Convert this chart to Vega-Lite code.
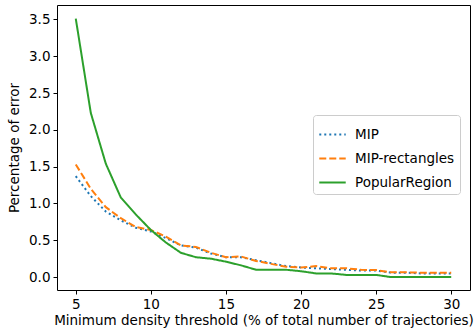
{
  "$schema": "https://vega.github.io/schema/vega-lite/v6.json",
  "width": 413,
  "height": 285,
  "autosize": "none",
  "padding": {"left": 57, "top": 5, "right": 6, "bottom": 44},
  "config": {
    "font": "DejaVu Sans",
    "view": {"stroke": "black", "strokeWidth": 1},
    "axis": {"grid": false, "domain": false, "tickColor": "black", "tickSize": 4, "labelColor": "black", "titleColor": "black", "labelFontSize": 13.5, "titleFontSize": 13.5, "titleFontWeight": "normal", "labelPadding": 3}
  },
  "data": {"values": [
    {"x": 5, "s": "MIP", "y": 1.37}, {"x": 6, "s": "MIP", "y": 1.1}, {"x": 7, "s": "MIP", "y": 0.89}, {"x": 8, "s": "MIP", "y": 0.77}, {"x": 9, "s": "MIP", "y": 0.67}, {"x": 10, "s": "MIP", "y": 0.62}, {"x": 11, "s": "MIP", "y": 0.53}, {"x": 12, "s": "MIP", "y": 0.43}, {"x": 13, "s": "MIP", "y": 0.4}, {"x": 14, "s": "MIP", "y": 0.32}, {"x": 15, "s": "MIP", "y": 0.27}, {"x": 16, "s": "MIP", "y": 0.27}, {"x": 17, "s": "MIP", "y": 0.23}, {"x": 18, "s": "MIP", "y": 0.19}, {"x": 19, "s": "MIP", "y": 0.15}, {"x": 20, "s": "MIP", "y": 0.13}, {"x": 21, "s": "MIP", "y": 0.12}, {"x": 22, "s": "MIP", "y": 0.11}, {"x": 23, "s": "MIP", "y": 0.1}, {"x": 24, "s": "MIP", "y": 0.09}, {"x": 25, "s": "MIP", "y": 0.09}, {"x": 26, "s": "MIP", "y": 0.06}, {"x": 27, "s": "MIP", "y": 0.06}, {"x": 28, "s": "MIP", "y": 0.05}, {"x": 29, "s": "MIP", "y": 0.05}, {"x": 30, "s": "MIP", "y": 0.05},
    {"x": 5, "s": "MIP-rectangles", "y": 1.53}, {"x": 6, "s": "MIP-rectangles", "y": 1.2}, {"x": 7, "s": "MIP-rectangles", "y": 0.95}, {"x": 8, "s": "MIP-rectangles", "y": 0.8}, {"x": 9, "s": "MIP-rectangles", "y": 0.68}, {"x": 10, "s": "MIP-rectangles", "y": 0.64}, {"x": 11, "s": "MIP-rectangles", "y": 0.55}, {"x": 12, "s": "MIP-rectangles", "y": 0.43}, {"x": 13, "s": "MIP-rectangles", "y": 0.41}, {"x": 14, "s": "MIP-rectangles", "y": 0.33}, {"x": 15, "s": "MIP-rectangles", "y": 0.27}, {"x": 16, "s": "MIP-rectangles", "y": 0.28}, {"x": 17, "s": "MIP-rectangles", "y": 0.22}, {"x": 18, "s": "MIP-rectangles", "y": 0.18}, {"x": 19, "s": "MIP-rectangles", "y": 0.14}, {"x": 20, "s": "MIP-rectangles", "y": 0.13}, {"x": 21, "s": "MIP-rectangles", "y": 0.15}, {"x": 22, "s": "MIP-rectangles", "y": 0.12}, {"x": 23, "s": "MIP-rectangles", "y": 0.12}, {"x": 24, "s": "MIP-rectangles", "y": 0.1}, {"x": 25, "s": "MIP-rectangles", "y": 0.095}, {"x": 26, "s": "MIP-rectangles", "y": 0.065}, {"x": 27, "s": "MIP-rectangles", "y": 0.065}, {"x": 28, "s": "MIP-rectangles", "y": 0.06}, {"x": 29, "s": "MIP-rectangles", "y": 0.06}, {"x": 30, "s": "MIP-rectangles", "y": 0.06},
    {"x": 5, "s": "PopularRegion", "y": 3.51}, {"x": 6, "s": "PopularRegion", "y": 2.23}, {"x": 7, "s": "PopularRegion", "y": 1.54}, {"x": 8, "s": "PopularRegion", "y": 1.08}, {"x": 9, "s": "PopularRegion", "y": 0.85}, {"x": 10, "s": "PopularRegion", "y": 0.64}, {"x": 11, "s": "PopularRegion", "y": 0.47}, {"x": 12, "s": "PopularRegion", "y": 0.33}, {"x": 13, "s": "PopularRegion", "y": 0.27}, {"x": 14, "s": "PopularRegion", "y": 0.25}, {"x": 15, "s": "PopularRegion", "y": 0.21}, {"x": 16, "s": "PopularRegion", "y": 0.16}, {"x": 17, "s": "PopularRegion", "y": 0.1}, {"x": 18, "s": "PopularRegion", "y": 0.1}, {"x": 19, "s": "PopularRegion", "y": 0.1}, {"x": 20, "s": "PopularRegion", "y": 0.08}, {"x": 21, "s": "PopularRegion", "y": 0.05}, {"x": 22, "s": "PopularRegion", "y": 0.05}, {"x": 23, "s": "PopularRegion", "y": 0.03}, {"x": 24, "s": "PopularRegion", "y": 0.03}, {"x": 25, "s": "PopularRegion", "y": 0.03}, {"x": 26, "s": "PopularRegion", "y": 0.0}, {"x": 27, "s": "PopularRegion", "y": 0.0}, {"x": 28, "s": "PopularRegion", "y": 0.0}, {"x": 29, "s": "PopularRegion", "y": 0.0}, {"x": 30, "s": "PopularRegion", "y": 0.0}
  ]},
  "mark": {"type": "line", "strokeWidth": 2},
  "encoding": {
    "x": {"field": "x", "type": "quantitative", "title": "Minimum density threshold (% of total number of trajectories)",
      "scale": {"domain": [3.75, 31.25], "nice": false, "zero": false},
      "axis": {"values": [5, 10, 15, 20, 25, 30], "titlePadding": 3}},
    "y": {"field": "y", "type": "quantitative", "title": "Percentage of error",
      "scale": {"domain": [-0.175, 3.695], "nice": false, "zero": false},
      "axis": {"values": [0, 0.5, 1, 1.5, 2, 2.5, 3, 3.5], "format": ".1f", "titlePadding": 7}},
    "color": {"field": "s", "type": "nominal", "title": null,
      "scale": {"domain": ["MIP", "MIP-rectangles", "PopularRegion"], "range": ["#1f77b4", "#ff7f0e", "#2ca02c"]},
      "legend": {"orient": "none", "legendX": 256, "legendY": 110, "symbolType": "stroke", "symbolSize": 700, "symbolStrokeWidth": 2, "labelFontSize": 13.5, "labelColor": "black", "labelOffset": 8, "fillColor": "white", "strokeColor": "#cccccc", "cornerRadius": 3, "padding": 5, "rowPadding": 3}},
    "strokeDash": {"field": "s", "type": "nominal", "title": null,
      "scale": {"domain": ["MIP", "MIP-rectangles", "PopularRegion"], "range": [[2, 3], [7, 3], [1, 0]]}}
  }
}
